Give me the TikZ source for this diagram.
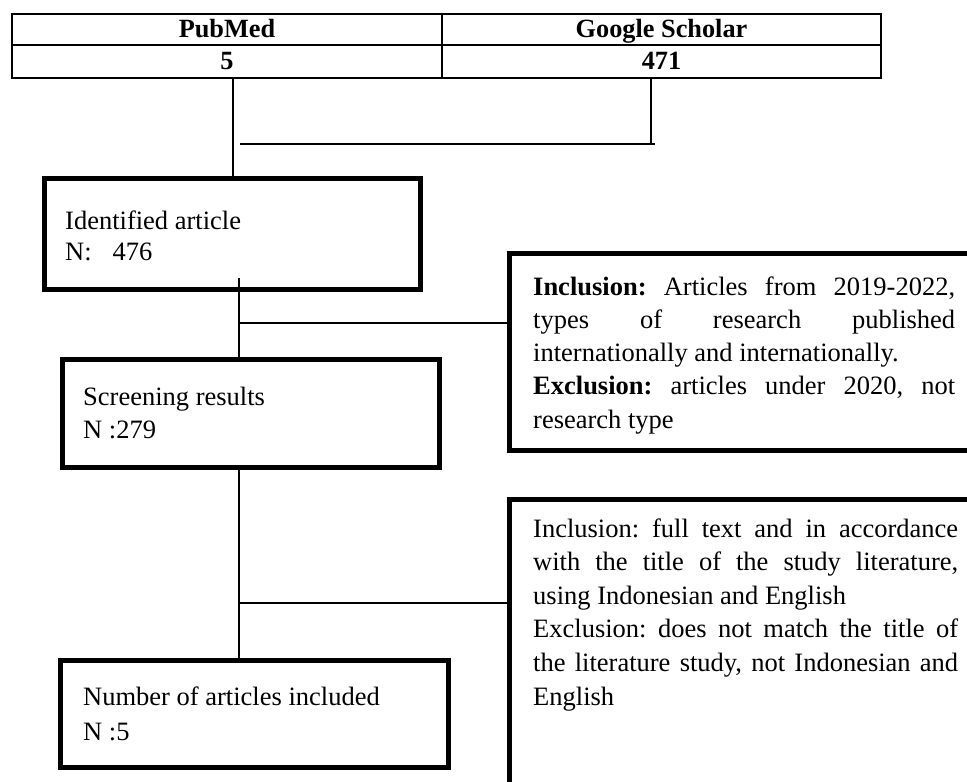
\documentclass[tikz,border=0pt]{standalone}
\usepackage{fontspec}
\setmainfont{Liberation Serif}
\frenchspacing
\tikzset{
  cell/.style={draw, line width=2.8pt, inner sep=0pt, text height=18pt, text depth=2pt,
    font=\fontsize{26.3}{30}\selectfont\bfseries},
  flowbox/.style={draw, line width=5pt, inner sep=0pt},
  conn/.style={line width=1.5pt},
  joinline/.style={line width=2.2pt},
  txt/.style={anchor=base west, inner sep=0pt, font=\fontsize{26.5}{31}\selectfont}
}
\begin{document}
\begin{tikzpicture}[x=1pt,y=-1pt]
\useasboundingbox (0,0) rectangle (967,782);
\clip (0,0) rectangle (967,782);
\fill[white] (0,0) rectangle (967,782);

% table
\node[cell, minimum width=430pt, minimum height=31pt] (pm) at (227,29.5) {PubMed};
\node[cell, minimum width=439pt, minimum height=31pt] (gs) at (661.5,29.5) {Google Scholar};
\node[cell, minimum width=430pt, minimum height=33pt] (pmn) at (227,61.5) {5};
\node[cell, minimum width=439pt, minimum height=33pt] (gsn) at (661.5,61.5) {471};

% flow boxes
\node[flowbox, minimum width=376pt, minimum height=111pt] (b1) at (232.5,234) {};
\node[flowbox, minimum width=377pt, minimum height=108pt] (b2) at (251,413.5) {};
\node[flowbox, minimum width=388pt, minimum height=107pt] (b4) at (254.5,714) {};
\node[flowbox, minimum width=490pt, minimum height=197pt] (b3) at (754.5,352) {};
\node[flowbox, minimum width=490pt, minimum height=320pt] (b5) at (754.5,659.5) {};

% texts
\node[txt] (t1) at (65,229) {\parbox[t]{340pt}{\fontsize{26.5}{31}\selectfont
  Identified article\\N:\hspace*{21pt}476}};
\node[txt] (t2) at (83,405) {\parbox[t]{340pt}{\fontsize{26.5}{33}\selectfont
  Screening results\\N :279}};
\node[txt] (t4) at (83,705) {\parbox[t]{350pt}{\fontsize{26.5}{35}\selectfont
  Number of articles included\\N :5}};
\node[txt] (t3) at (533,295) {\parbox[t]{422pt}{\fontsize{26.5}{33.25}\selectfont
  \makebox[\linewidth][s]{\textbf{Inclusion:} Articles from 2019-2022,}\\
  \makebox[\linewidth][s]{types of research published}\\
  internationally and internationally.\\
  \makebox[\linewidth][s]{\textbf{Exclusion:} articles under 2020, not}\\
  research type}};
\node[txt] (t5) at (533,537) {\parbox[t]{425pt}{\fontsize{26.5}{33.6}\selectfont
  \makebox[\linewidth][s]{Inclusion: full text and in accordance}\\
  \makebox[\linewidth][s]{with the title of the study literature,}\\
  using Indonesian and English\\
  \makebox[\linewidth][s]{Exclusion: does not match the title of}\\
  \makebox[\linewidth][s]{the literature study, not Indonesian and}\\
  English}};

% connectors from table
\coordinate (lv) at (233,0);
\coordinate (rv) at (651,144);
\coordinate (h1) at (240,144);
\coordinate (h2) at (655,144);
\draw[conn] (lv |- pmn.south) -- (lv |- b1.north);
\draw[conn] (rv |- gsn.south) -- (rv);
\draw[joinline] (h1) -- (h2);

% box1 -> box2 and branch to box3
\coordinate (s1) at (239,278);
\coordinate (j1) at (239,323);
\draw[conn] (s1) -- (s1 |- b2.north);
\draw[conn] (j1) -- (j1 -| b3.west);

% box2 -> box4 and branch to box5
\coordinate (j2) at (239,603);
\draw[conn] (j2 |- b2.south) -- (j2 |- b4.north);
\draw[conn] (j2) -- (j2 -| b5.west);
\end{tikzpicture}
\end{document}
